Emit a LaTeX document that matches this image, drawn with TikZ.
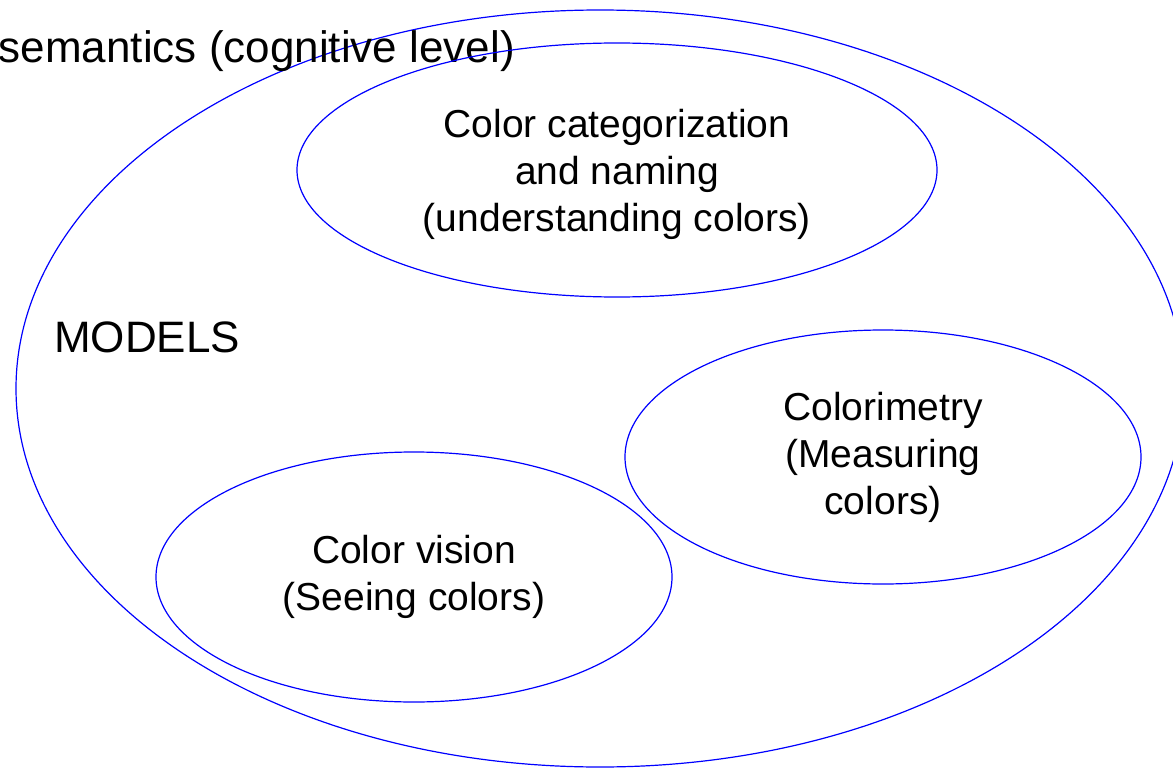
\documentclass[tikz,border=0pt]{standalone}
\usepackage{fontspec}
\setmainfont{Liberation Sans}
\usetikzlibrary{shapes.geometric}
\begin{document}
\begin{tikzpicture}[x=1pt,y=-1pt,
  ell/.style={draw=blue, line width=1.2pt, ellipse, inner sep=0pt, align=center,
    font=\fontsize{39}{47}\selectfont},
  txt/.style={inner sep=0pt, align=center, font=\fontsize{39}{47}\selectfont},
  lbl/.style={font=\fontsize{44}{52}\selectfont, inner sep=0pt}]
\useasboundingbox (0,0) rectangle (1173,768);
\node[ell, minimum width=1168, minimum height=757] (models) at (600,388.5) {};
\node[lbl, anchor=base west] (mtxt) at (54,352) {MODELS};
\node[lbl, anchor=base east] (sem) at (515,63) {semantics (cognitive level)};
\node[ell, minimum width=640, minimum height=254] (cat) at (617,170) {};
\node[txt] (cattxt) at ([yshift=-4pt]cat.center) {Color categorization\\and naming\\(understanding colors)};
\node[ell, minimum width=516, minimum height=254] (colorim) at (883,457) {Colorimetry\\(Measuring\\colors)};
\node[ell, minimum width=516, minimum height=250] (vision) at (414,577) {Color vision\\(Seeing colors)};
\end{tikzpicture}
\end{document}
